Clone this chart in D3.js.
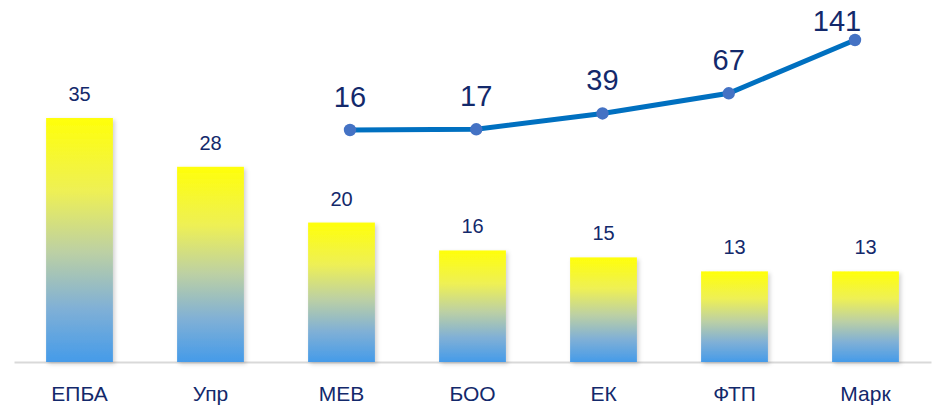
<!DOCTYPE html>
<html><head><meta charset="utf-8">
<script src="https://cdn.jsdelivr.net/npm/d3@7"></script>
<style>body{margin:0;background:#fff}svg{display:block}</style>
</head><body><svg id="c" width="934" height="406"></svg>
<script>
const categories = ["ЕПБА","Упр","МЕВ","БОО","ЕК","ФТП","Марк"];
const barValues = [35,28,20,16,15,13,13];
const lineCategories = ["МЕВ","БОО","ЕК","ФТП","Марк"];
const lineValues = [16,17,39,67,141];

const svg = d3.select("#c");
const font = "'Liberation Sans', Arial, sans-serif";
const textColor = "#13296b";

const x = d3.scaleBand().domain(categories).range([14, 931]).paddingInner(0.49).paddingOuter(0.245);
const xl = d3.scalePoint().domain(lineCategories).range([350, 855]);
const y = d3.scaleLinear().domain([0, 35]).range([362, 118]);
const y2 = d3.scaleLinear().domain([16, 141]).range([130, 40]);

const defs = svg.append("defs");
const g = defs.append("linearGradient").attr("id","bg").attr("x1",0).attr("y1",0).attr("x2",0).attr("y2",1);
[[0,"#ffff0a"],[0.3,"#eef055"],[0.55,"#bcd0a4"],[0.78,"#80b0d6"],[1,"#459be9"]].forEach(s=>g.append("stop").attr("offset",s[0]).attr("stop-color",s[1]));
const f = defs.append("filter").attr("id","sh").attr("x","-20%").attr("y","-10%").attr("width","140%").attr("height","120%");
f.append("feDropShadow").attr("dx",2).attr("dy",2).attr("stdDeviation",2).attr("flood-color","#000").attr("flood-opacity",0.18);

const ax = d3.axisBottom(x).tickSize(0).tickPadding(20);
const axG = svg.append("g").attr("transform","translate(0,362)").call(ax);
axG.select(".domain").attr("stroke","#d9d9d9").attr("stroke-width",2);
axG.selectAll("text").attr("font-family",font).attr("font-size",21).attr("fill",textColor).attr("dy","0.9em");

svg.append("g").selectAll("rect").data(barValues).join("rect")
  .attr("x",(d,i)=>x(categories[i]))
  .attr("width",x.bandwidth())
  .attr("y",d=>y(d))
  .attr("height",d=>y(0)-y(d))
  .attr("fill","url(#bg)")
  .attr("filter","url(#sh)");

svg.append("g").selectAll("text").data(barValues).join("text")
  .attr("x",(d,i)=>x(categories[i])+x.bandwidth()/2)
  .attr("y",d=>y(d)-17)
  .attr("text-anchor","middle")
  .attr("font-family",font).attr("font-size",20).attr("fill",textColor)
  .text(d=>d);

const line = d3.line().x((d,i)=>xl(lineCategories[i])).y(d=>y2(d));
svg.append("path").datum(lineValues).attr("d",line).attr("fill","none").attr("stroke","#0070c0").attr("stroke-width",5);
svg.append("g").selectAll("circle").data(lineValues).join("circle")
  .attr("cx",(d,i)=>xl(lineCategories[i])).attr("cy",d=>y2(d)).attr("r",6.2).attr("fill","#4472c4");
const last = lineValues.length-1;
svg.append("g").selectAll("text").data(lineValues).join("text")
  .attr("x",(d,i)=>xl(lineCategories[i]) - (i===last?18:0))
  .attr("y",(d,i)=>y2(d) - (i===last?9:23))
  .attr("text-anchor","middle")
  .attr("font-family",font).attr("font-size",29).attr("fill",textColor)
  .text(d=>d);
</script></body></html>
